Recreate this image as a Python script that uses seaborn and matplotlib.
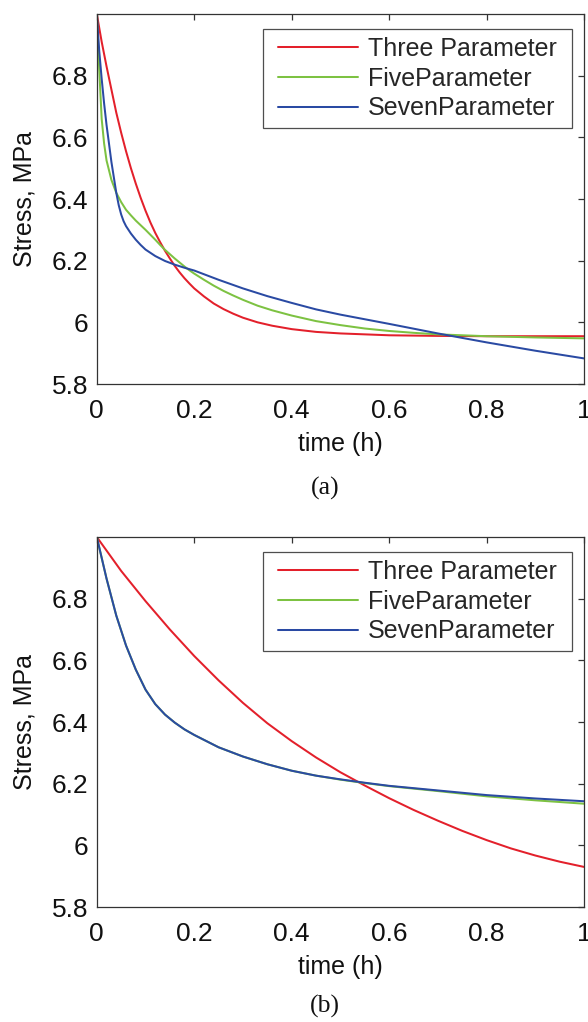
import numpy as np
import pandas as pd
import matplotlib
matplotlib.use("Agg")
import matplotlib.pyplot as plt
import seaborn as sns
from matplotlib.ticker import FuncFormatter
from matplotlib.path import Path

# ---------------- data ----------------
labels = ["Three Parameter", "FiveParameter", "SevenParameter"]
colors = ["#e3202b", "#7dc242", "#2a4aa3"]

# panel (a)
t_a_red = [0, 0.01, 0.02, 0.03, 0.04, 0.05, 0.06, 0.07, 0.08, 0.09, 0.10,
           0.11, 0.12, 0.13, 0.14, 0.15, 0.16, 0.17, 0.18, 0.19, 0.20,
           0.22, 0.24, 0.26, 0.28, 0.30, 0.33, 0.36, 0.40, 0.45, 0.50,
           0.55, 0.60, 0.70, 0.80, 0.90, 1.00]
y_a_red = [7.0, 6.91, 6.83, 6.755, 6.68, 6.615, 6.555, 6.50, 6.45, 6.404, 6.362,
           6.324, 6.29, 6.26, 6.232, 6.207, 6.183, 6.162, 6.143, 6.126, 6.110,
           6.084, 6.061, 6.043, 6.028, 6.015, 6.000, 5.989, 5.978, 5.969, 5.964,
           5.961, 5.958, 5.956, 5.955, 5.955, 5.955]

t_a_green = [0, 0.005, 0.01, 0.015, 0.02, 0.03, 0.04, 0.05, 0.06, 0.07, 0.08,
             0.09, 0.10, 0.11, 0.12, 0.13, 0.14, 0.15, 0.16, 0.17, 0.18,
             0.19, 0.20, 0.22, 0.24, 0.26, 0.28, 0.30, 0.33, 0.36, 0.40,
             0.45, 0.50, 0.55, 0.60, 0.65, 0.70, 0.80, 0.90, 1.00]
y_a_green = [7.0, 6.82, 6.66, 6.58, 6.525, 6.462, 6.42, 6.39, 6.365, 6.347, 6.33,
             6.315, 6.30, 6.284, 6.268, 6.251, 6.235, 6.221, 6.207, 6.194, 6.181,
             6.169, 6.158, 6.138, 6.119, 6.102, 6.087, 6.073, 6.054, 6.039, 6.022,
             6.004, 5.991, 5.980, 5.972, 5.966, 5.961, 5.955, 5.951, 5.948]

t_a_blue = [0, 0.005, 0.01, 0.015, 0.02, 0.03, 0.04, 0.045, 0.05, 0.055, 0.06,
            0.07, 0.08, 0.09, 0.10, 0.12, 0.14, 0.16, 0.18, 0.20, 0.25,
            0.30, 0.35, 0.40, 0.45, 0.50, 0.60, 0.70, 0.80, 0.90, 1.00]
y_a_blue = [7.0, 6.88, 6.79, 6.71, 6.64, 6.52, 6.42, 6.38, 6.35, 6.328, 6.312,
            6.288, 6.268, 6.251, 6.236, 6.215, 6.199, 6.187, 6.177, 6.168, 6.138,
            6.11, 6.085, 6.063, 6.042, 6.025, 5.995, 5.964, 5.935, 5.908, 5.883]

# panel (b)
t_b_red = [0, 0.05, 0.10, 0.15, 0.20, 0.25, 0.30, 0.35, 0.40, 0.45, 0.50,
           0.55, 0.60, 0.65, 0.70, 0.75, 0.80, 0.85, 0.90, 0.95, 1.00]
y_b_red = [7.0, 6.89, 6.792, 6.70, 6.614, 6.535, 6.462, 6.396, 6.338, 6.285, 6.237,
           6.194, 6.153, 6.115, 6.08, 6.047, 6.017, 5.99, 5.967, 5.947, 5.93]

t_b_gb = [0, 0.02, 0.04, 0.06, 0.08, 0.10, 0.12, 0.14, 0.16, 0.18, 0.20,
          0.25, 0.30, 0.35, 0.40, 0.45, 0.50, 0.55, 0.60, 0.70, 0.80, 0.90, 1.00]
y_b_green = [7.0, 6.865, 6.745, 6.648, 6.57, 6.505, 6.458, 6.424, 6.398, 6.376, 6.358,
             6.318, 6.288, 6.263, 6.242, 6.226, 6.213, 6.202, 6.192, 6.176, 6.159, 6.146, 6.135]
y_b_blue = [7.0, 6.865, 6.745, 6.648, 6.57, 6.505, 6.458, 6.424, 6.398, 6.376, 6.358,
            6.318, 6.288, 6.263, 6.242, 6.226, 6.214, 6.203, 6.193, 6.178, 6.163, 6.152, 6.143]

xticks = [0, 0.2, 0.4, 0.6, 0.8, 1.0]
yticks = [5.8, 6.0, 6.2, 6.4, 6.6, 6.8]
xlabel = "time (h)"
ylabel = "Stress, MPa"
captions = ["(a)", "(b)"]

# ---------------- style ----------------
sns.set_style("white")
plt.rcParams["font.family"] = ["Liberation Sans", "DejaVu Sans"]

fig = plt.figure(figsize=(5.88, 10.22), dpi=100)
W, H = 588.0, 1022.0
ax_left, ax_right = 96.8, 584.0
panels = [(14.0, 384.0), (537.0, 907.0)]
caption_y = [488.0, 1006.0]

series = [
    [(t_a_red, y_a_red), (t_a_green, y_a_green), (t_a_blue, y_a_blue)],
    [(t_b_red, y_b_red), (t_b_gb, y_b_green), (t_b_gb, y_b_blue)],
]

fmt = FuncFormatter(lambda v, p: "%g" % round(v, 2))


def wide_box(x0, y0, width, height, mutation_size):
    ex = 0.28 * mutation_size
    verts = [(x0 - ex, y0), (x0 + width + ex, y0), (x0 + width + ex, y0 + height),
             (x0 - ex, y0 + height), (x0 - ex, y0)]
    codes = [Path.MOVETO, Path.LINETO, Path.LINETO, Path.LINETO, Path.CLOSEPOLY]
    return Path(verts, codes)


for pi, (top, bot) in enumerate(panels):
    ax = fig.add_axes([ax_left / W, 1 - bot / H, (ax_right - ax_left) / W, (bot - top) / H])
    for (tt, yy), lab, col in zip(series[pi], labels, colors):
        df = pd.DataFrame({"t": tt, "y": yy})
        sns.lineplot(data=df, x="t", y="y", ax=ax, color=col, linewidth=1.45,
                     label=lab, estimator=None, sort=False)
    ax.set_xlim(0, 1)
    ax.set_ylim(5.8, 7.0)
    ax.set_xticks(xticks)
    ax.set_yticks(yticks)
    ax.xaxis.set_major_formatter(fmt)
    ax.yaxis.set_major_formatter(fmt)
    ax.tick_params(direction="in", length=4.5, width=0.9, color="#333333",
                   top=True, right=True, labelsize=19, labelcolor="#111111")
    ax.tick_params(axis="x", pad=10.5)
    ax.tick_params(axis="y", pad=6)
    for s in ax.spines.values():
        s.set_color("#333333")
        s.set_linewidth(0.9)
    ax.set_xlabel(xlabel, fontsize=18, color="#111111", labelpad=7)
    ax.set_ylabel(ylabel, fontsize=18, color="#111111", labelpad=11)
    leg = ax.legend(loc="upper right", bbox_to_anchor=(0.9605, 0.96), borderaxespad=0,
                    fontsize=18, frameon=True, fancybox=False,
                    handlelength=3.2, handletextpad=0.4, labelspacing=0.23,
                    borderpad=0.32)
    fr = leg.get_frame()
    fr.set_boxstyle(wide_box)
    fr.set_edgecolor("#222222")
    fr.set_linewidth(0.9)
    for ln in leg.get_lines():
        ln.set_linewidth(1.45)
    fig.text(325.0 / W, 1 - caption_y[pi] / H, captions[pi], ha="center", va="center",
             fontsize=18.5, family=["Liberation Serif", "DejaVu Serif"], color="#111111")

fig.savefig("out.png", dpi=100)
